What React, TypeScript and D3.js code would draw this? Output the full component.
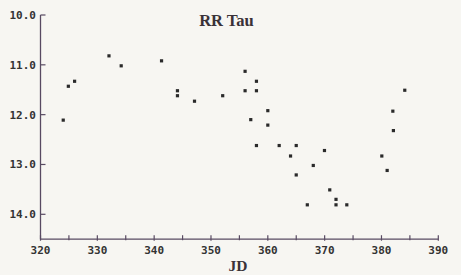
import React from "react";
import * as d3 from "d3";

const jd = [324.0, 324.9, 326.0, 332.05, 334.2, 341.3, 344.1, 344.1, 347.1, 352.06, 356.0, 358.0, 356.0, 358.0, 360.0, 357.0, 360.0, 358.0, 362.0, 365.0, 364.0, 369.97, 368.0, 365.0, 370.9, 372.0, 372.0, 366.95, 373.9, 380.06, 381.0, 382.0, 382.1, 384.1];
const mag = [12.11, 11.43, 11.33, 10.82, 11.02, 10.92, 11.52, 11.62, 11.73, 11.62, 11.13, 11.33, 11.52, 11.52, 11.92, 12.1, 12.21, 12.62, 12.62, 12.62, 12.83, 12.72, 13.02, 13.21, 13.51, 13.7, 13.81, 13.81, 13.81, 12.83, 13.12, 11.93, 12.32, 11.51];
const yTicks = [10, 11, 12, 13, 14];
const yTickLabels = ["10.0", "11.0", "12.0", "13.0", "14.0"];
const xMajor = [320, 330, 340, 350, 360, 370, 380, 390];
const xMinor = [325, 335, 345, 355, 365, 375, 385];
const title = "RR Tau";
const xLabel = "JD";

export default function App() {
  const x = d3.scaleLinear().domain([320, 390]).range([40.5, 438.3]);
  const y = d3.scaleLinear().domain([10, 14]).range([15, 214.3]);
  const y0 = y(14.5);
  const axisColor = "#584a62";
  const textColor = "#333";
  const mono = "'DejaVu Sans Mono', monospace";
  const serif = "'Liberation Serif', 'DejaVu Serif', serif";
  return (
    <div style={{ position: "fixed", left: 0, top: 0 }}>
      <svg width={461} height={275} style={{ display: "block" }}>
        <rect x={0} y={0} width={461} height={275} fill="#f7f6f2" />
        <text x={226.5} y={26} textAnchor="middle" fontFamily={serif} fontWeight="bold" fontSize={16.5} fill="#3a3238">
          {title}
        </text>
        {/* y axis */}
        <line x1={x(320)} x2={x(320)} y1={y(10)} y2={y0} stroke={axisColor} strokeWidth={1.3} />
        {yTicks.map((t, i) => (
          <g key={"y" + t}>
            <line x1={x(320)} x2={x(320) + 5} y1={y(t)} y2={y(t)} stroke={axisColor} strokeWidth={1.2} />
            <text x={36} y={y(t)} dy="0.35em" textAnchor="end" fontFamily={mono} fontSize={11} fontWeight="bold" fill={textColor}>
              {yTickLabels[i]}
            </text>
          </g>
        ))}
        {/* x axis */}
        <line x1={x(320)} x2={x(390)} y1={y0} y2={y0} stroke={axisColor} strokeWidth={1.3} />
        {xMajor.map((t) => (
          <g key={"x" + t}>
            <line x1={x(t)} x2={x(t)} y1={y0 - 4} y2={y0 + 1.5} stroke={axisColor} strokeWidth={1.2} />
            <text x={x(t)} y={253.5} textAnchor="middle" fontFamily={mono} fontSize={11} fontWeight="bold" fill={textColor}>
              {String(t)}
            </text>
          </g>
        ))}
        {xMinor.map((t) => (
          <line key={"m" + t} x1={x(t)} x2={x(t)} y1={y0 - 4} y2={y0 + 1} stroke={axisColor} strokeWidth={1.2} />
        ))}
        <text x={238} y={271} textAnchor="middle" fontFamily={serif} fontWeight="bold" fontSize={15.5} fill="#3a3238">
          {xLabel}
        </text>
        {jd.map((v, i) => (
          <rect key={"p" + i} x={x(v) - 1.6} y={y(mag[i]) - 1.6} width={3.2} height={3.2} fill="#2a2a2a" />
        ))}
      </svg>
    </div>
  );
}
